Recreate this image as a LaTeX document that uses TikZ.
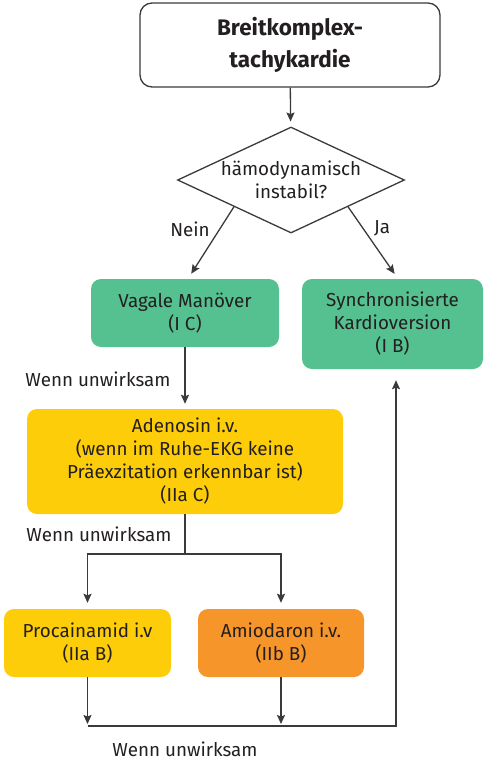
\documentclass[tikz,border=0pt]{standalone}
\usepackage{fontspec}
\setmainfont{Fira Sans}
\usetikzlibrary{shapes.geometric,arrows.meta,calc}
\definecolor{ink}{HTML}{231F20}
\definecolor{wire}{HTML}{3A3A3A}
\definecolor{mint}{HTML}{55C090}
\definecolor{sun}{HTML}{FECD0A}
\definecolor{tangerine}{HTML}{F6952A}
\begin{document}
\begin{tikzpicture}[x=1pt,y=-1pt,
  txt/.style={text=ink,font={\fontsize{18.8}{23}\selectfont},align=center},
  card/.style={txt,rounded corners=10pt,inner sep=0pt},
  arr/.style={draw=wire,line width=1.3pt,-{Stealth[length=9pt,width=8pt,inset=1.5pt]}},
  wireline/.style={draw=wire,line width=1.3pt}]
\useasboundingbox (0,0) rectangle (484,761);

% start box
\node[txt,draw=wire,line width=1.3pt,rounded corners=12pt,minimum width=300pt,minimum height=84pt,
  font={\fontsize{22.5}{32}\selectfont\bfseries}] (start) at (290,45) {Breitkomplex-\\tachykardie};

% decision
\node[txt,diamond,draw=wire,line width=1.3pt,inner sep=0pt,aspect=2.14,
  minimum width=227pt,minimum height=106pt] (dec) at (291,180) {hämodynamisch\\instabil?};

% treatment boxes
\node[card,fill=mint,minimum width=188pt,minimum height=68pt] (vag) at (185,313) {Vagale Manöver\\(I C)};
\node[card,fill=mint,minimum width=181pt,minimum height=90pt] (syn) at (392.5,324) {Synchronisierte\\Kardioversion\\(I B)};
\node[card,fill=sun,minimum width=316pt,minimum height=105pt] (ade) at (185,461.5)
  {Adenosin i.v.\\(wenn im Ruhe-EKG keine\\Präexzitation erkennbar ist)\\(IIa C)};
\node[card,fill=sun,minimum width=167pt,minimum height=68pt] (proc) at (87.5,643) {Procainamid i.v\\(IIa B)};
\node[card,fill=tangerine,minimum width=166pt,minimum height=68pt] (amio) at (281,643) {Amiodaron i.v.\\(IIb B)};

% junction points
\coordinate (split) at (185,554);
\coordinate (j1) at (87.5,726);
\coordinate (j2) at (281,726);
\coordinate (corner) at (396,726);

% connectors
\draw[arr,shorten >=5pt] (start) -- (dec);
\draw[arr,shorten >=6pt] (dec.south west) -- ($(vag.north)+(3,0)$);
\draw[arr,shorten >=6pt] (dec.south east) -- ($(syn.north)+(5.5,0)$);
\draw[arr,shorten >=5pt] (vag) -- (ade);
\draw[wireline] (ade) -- (split);
\draw[arr,shorten >=6pt] (split) -| (proc);
\draw[arr,shorten >=6pt] (split) -| (amio);
\draw[arr,shorten >=2pt] (proc) -- (j1);
\draw[arr,shorten >=2pt] (amio) -- (j2);
\draw[arr,shorten >=11pt] (j1) -- (corner) -- (corner |- syn.south);

% labels
\node[txt] (nein) at (190,229) {Nein};
\node[txt] (ja) at (382,228) {Ja};
\node[txt,anchor=east] (w1) at (174,379) {Wenn unwirksam};
\node[txt,anchor=east] (w2) at (175,534) {Wenn unwirksam};
\node[txt,anchor=base,inner sep=0pt] (w3) at (185,756) {Wenn unwirksam};
\end{tikzpicture}
\end{document}
